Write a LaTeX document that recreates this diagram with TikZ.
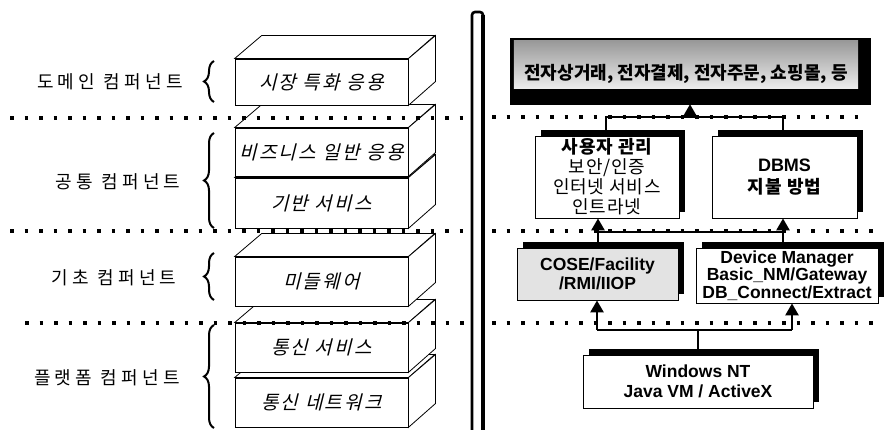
\documentclass[tikz,border=0pt]{standalone}
\usepackage{fontspec}
\usetikzlibrary{arrows.meta,shadows,decorations.pathreplacing}
\newfontfamily\kr{Noto Sans CJK KR}
\newfontfamily\krlbl[LetterSpace=24]{Noto Sans CJK KR}
\newfontfamily\krit[FakeSlant=0.25,LetterSpace=12]{Noto Sans CJK KR}
\newfontfamily\krbox[LetterSpace=5]{Noto Sans CJK KR}
\newfontfamily\arb{Liberation Sans}
\newcommand\layerbox[5]{%
  \node[front=#4] (#1) at (#2,#3) {\makebox[0pt]{#5}};
  \draw[face] (#1.north west) -- ++(27,-23) -- ++(173,0) -- (#1.north east) -- cycle;
  \draw[face] (#1.north east) -- ++(27,-23) -- ++(0,#4) -- (#1.south east) -- cycle;
}
\begin{document}
\begin{tikzpicture}[x=1pt,y=-1pt,
  lbl/.style={font=\krlbl\fontsize{18}{18}\selectfont, inner sep=0pt},
  front/.style={draw, fill=white, line width=0.8pt, minimum width=173pt, minimum height=#1pt, inner sep=0pt, font=\krit\fontsize{19}{19}\selectfont},
  face/.style={draw, fill=white, line width=0.8pt},
  brc/.style={decorate, decoration={brace, amplitude=10pt}, line width=2pt},
  dotl/.style={line width=3.5pt, dash pattern=on 3.5pt off 11pt},
  sbox/.style={draw, fill=white, line width=0.8pt, drop shadow={shadow xshift=6pt, shadow yshift=6pt, fill=black, opacity=1}, inner sep=0pt, align=center},
  krt/.style={font=\krbox\fontsize{18}{20}\selectfont},
  lat/.style={font=\arb\bfseries\fontsize{17.5}{17.5}\selectfont},
  bus/.style={line width=2.6pt},
  arr/.style={line width=2.6pt, -{Triangle[width=13pt,length=12pt]}},
]
\useasboundingbox (0,0) rectangle (892,430);
\fill[white] (0,0) rectangle (892,430);

% ---------- left: layered 3D boxes ----------
\layerbox{b6}{321.5}{402.5}{49}{통신 네트워크}
\layerbox{b5}{321.5}{347.5}{49}{통신 서비스}
\layerbox{b4}{321.5}{281.5}{49}{미들웨어}
\layerbox{b3}{321.5}{203}{50}{기반 서비스}
\layerbox{b2}{321.5}{152}{48}{비즈니스 일반 응용}
\layerbox{b1}{321.5}{82}{46}{시장 특화 응용}

% labels
\node[lbl] (l1) at (110,82) {도메인 컴퍼넌트};
\node[lbl] (l2) at (118,182) {공통 컴퍼넌트};
\node[lbl] (l3) at (114,278) {기초 컴퍼넌트};
\node[lbl] (l4) at (107,378) {플랫폼 컴퍼넌트};

% braces
\coordinate (r1a) at (214,102); \coordinate (r1b) at (214,61);
\coordinate (r2a) at (214,228); \coordinate (r2b) at (214,133);
\coordinate (r3a) at (214,300); \coordinate (r3b) at (214,253);
\coordinate (r4a) at (214,428); \coordinate (r4b) at (214,325);
\draw[brc] (r1a) -- (r1b);
\draw[brc] (r2a) -- (r2b);
\draw[brc] (r3a) -- (r3b);
\draw[brc] (r4a) -- (r4b);

% ---------- right: component boxes ----------
\node[draw=black, fill=black, minimum width=360pt, minimum height=66pt, inner sep=0pt] (ec) at (690,71) {};
\shade[top color=gray!80, bottom color=gray!15] ([shift={(4,3)}]ec.north west) rectangle ([shift={(-12,-16)}]ec.south east);
\node[font=\kr\bfseries\fontsize{18}{18}\selectfont, inner sep=0pt] (ect) at (686,74) {전자상거래, 전자결제, 전자주문, 쇼핑몰, 등};

\node[sbox, krt, minimum width=144pt, minimum height=82pt] (A) at (607,177)
  {{\bfseries 사용자 관리}\\보안/인증\\인터넷 서비스\\인트라넷};
\node[sbox, krt, minimum width=145pt, minimum height=82pt] (B) at (784.5,177)
  {{\arb\bfseries DBMS}\\[2pt]{\bfseries 지불 방법}};
\node[sbox, lat, fill=gray!22, minimum width=161pt, minimum height=52pt] (C) at (597.5,274)
  {COSE/Facility\\[1pt]/RMI/IIOP};
\node[sbox, lat, minimum width=182pt, minimum height=55pt] (D) at (787,275.5)
  {Device Manager\\Basic\_NM/Gateway\\DB\_Connect/Extract};
\node[sbox, lat, minimum width=230pt, minimum height=53pt] (W) at (698,381.5)
  {Windows NT\\[2pt]Java VM / ActiveX};

% connectors
\coordinate (j1) at (606,117); \coordinate (j2) at (783,117); \coordinate (j0) at (690,117);
\draw[bus] (A.north -| j1) -- (j1) -- (j2) -- (B.north -| j2);
\draw[arr] (j0) -- (ec.south -| j0);

\coordinate (k1) at (598,232); \coordinate (k2) at (783,232);
\draw[bus] (k1) -- (k2);
\draw[arr] (C.north -| k1) -- (A.south -| k1);
\draw[arr] (D.north -| k2) -- (B.south -| k2);

\coordinate (m1) at (597,330); \coordinate (m2) at (792,330);
\draw[bus] (W.north) -- (W.north |- m1);
\draw[bus] (m1) -- (m2);
\draw[arr] (m1) -- (C.south -| m1);
\draw[arr] (m2) -- (D.south -| m2);

% dotted separators
\coordinate (d1a) at (10,118);  \coordinate (d1b) at (466,118);
\coordinate (d1c) at (492,117); \coordinate (d1d) at (868,117);
\coordinate (d2a) at (10,231);  \coordinate (d2b) at (466,231);
\coordinate (d2c) at (492,231); \coordinate (d2d) at (880,231);
\coordinate (d3a) at (25,323);  \coordinate (d3b) at (466,323);
\coordinate (d3c) at (492,323); \coordinate (d3d) at (875,323);
\draw[dotl] (d1a) -- (d1b); \draw[dotl] (d1c) -- (d1d);
\draw[dotl] (d2a) -- (d2b); \draw[dotl] (d2c) -- (d2d);
\draw[dotl] (d3a) -- (d3b); \draw[dotl] (d3c) -- (d3d);

% double vertical divider
\coordinate (v1) at (472,430); \coordinate (v2) at (472,12);
\coordinate (v3) at (483,12);  \coordinate (v4) at (483,430);
\draw[line width=2.6pt, rounded corners=3pt] (v1) -- (v2) -- (v3) -- (v4);
\draw[line width=4pt] ([yshift=-3pt]v3) -- (v4);
\end{tikzpicture}
\end{document}
